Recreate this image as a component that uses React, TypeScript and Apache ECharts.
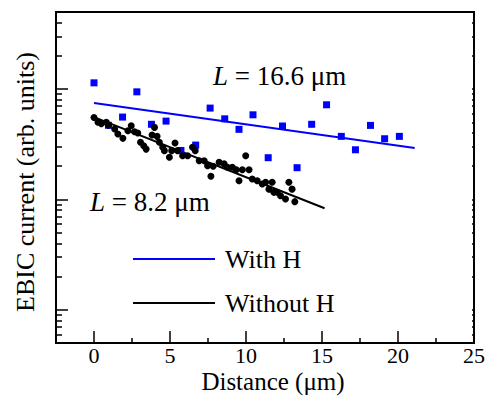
import React, { useEffect, useRef } from "react";
import * as echarts from "echarts";

// Data: "With H" (blue squares) and "Without H" (black dots)
const withHX = [0, 0.95, 1.88, 2.82, 3.78, 4.74, 5.72, 6.69, 7.64, 8.6, 9.54, 10.46, 11.46, 12.4, 13.36, 14.32, 15.3, 16.27, 17.2, 18.19, 19.12, 20.09];
const withHY = [1.14, 0.47, 0.558, 0.945, 0.48, 0.513, 0.278, 0.311, 0.673, 0.538, 0.432, 0.585, 0.239, 0.463, 0.194, 0.48, 0.721, 0.373, 0.282, 0.469, 0.355, 0.373];

const withoutHX = [0, 0.26, 0.48, 0.81, 0.96, 1.36, 1.57, 1.9, 2.23, 2.45, 2.67, 2.88, 3.06, 3.27, 3.43, 3.82, 3.98, 4.15, 4.3, 4.52, 4.63, 4.96, 5.11, 5.33, 5.5, 5.83, 6.16, 6.48, 6.66, 6.92, 7.25, 7.47, 7.69, 7.84, 8.23, 8.56, 8.78, 9.1, 9.36, 9.54, 9.76, 9.98, 10.2, 10.41, 10.74, 11.07, 11.29, 11.51, 11.72, 11.83, 12.05, 12.27, 12.6, 12.82, 13.03, 13.21];
const withoutHY = [0.554, 0.5, 0.487, 0.5, 0.472, 0.435, 0.392, 0.358, 0.419, 0.466, 0.411, 0.4, 0.33, 0.307, 0.286, 0.384, 0.45, 0.373, 0.33, 0.297, 0.277, 0.241, 0.277, 0.325, 0.277, 0.249, 0.249, 0.297, 0.277, 0.224, 0.224, 0.202, 0.162, 0.2, 0.217, 0.21, 0.196, 0.196, 0.186, 0.148, 0.186, 0.249, 0.186, 0.153, 0.148, 0.138, 0.143, 0.124, 0.143, 0.116, 0.116, 0.108, 0.101, 0.143, 0.124, 0.0955];

// Exponential fits (straight on log scale)
const fitWithX = [0, 21.1];
const fitWithY = [0.747, 0.292];
const fitWithoutX = [0, 15.17];
const fitWithoutY = [0.558, 0.0832];

const seriesNames = ["With H", "Without H"];
const fitLabels = ["16.6", "8.2"];

// Axes
const xMin = -2.5;
const xMax = 25;
const xMajorTicks = [0, 5, 10, 15, 20, 25];
const xMinorTicks = [2.5, 7.5, 12.5, 17.5, 22.5];
const yMin = 0.005;
const yMax = 5;
const yMajorTicks = [0.01, 0.1, 1];
const yMinorTicks = [
  0.006, 0.007, 0.008, 0.009,
  0.02, 0.03, 0.04, 0.05, 0.06, 0.07, 0.08, 0.09,
  0.2, 0.3, 0.4, 0.5, 0.6, 0.7, 0.8, 0.9,
  2, 3, 4,
];
const xTitle = "Distance (\u03bcm)";
const yTitle = "EBIC current (arb. units)";

const FONT = "Liberation Serif";
const BLUE = "#0000ff";
const BLACK = "#000000";

const zip = (xs: number[], ys: number[]) => xs.map((x, i) => [x, ys[i]]);

export default function App() {
  const ref = useRef<HTMLDivElement>(null);

  useEffect(() => {
    if (!ref.current) return;
    const chart = echarts.init(ref.current, undefined, { renderer: "svg" });
    const lyMin = Math.log10(yMin);
    const lyMax = Math.log10(yMax);
    const tickAxis = (position: string, ticks: number[], len: number) => ({
      type: "value",
      position,
      min: lyMin,
      max: lyMax,
      axisLine: { show: false, onZero: false },
      axisLabel: { show: false },
      splitLine: { show: false },
      axisTick: {
        show: true,
        inside: true,
        length: len,
        customValues: ticks.map((t) => Math.log10(t)),
        lineStyle: { color: BLACK, width: 1.5 },
      },
    });
    const fitText = (label: string) => ({
      text: "{i|L} = " + label + " \u03bcm",
      rich: { i: { fontStyle: "italic", fontFamily: FONT, fontSize: 27, fill: BLACK } },
      fontFamily: FONT,
      fontSize: 27,
      fill: BLACK,
      verticalAlign: "middle",
    });

    const option: any = {
      animation: false,
      textStyle: { fontFamily: FONT, color: BLACK },
      grid: {
        left: 56,
        right: 13,
        top: 12,
        bottom: 60,
        show: true,
        borderColor: BLACK,
        borderWidth: 2,
        backgroundColor: "transparent",
        containLabel: false,
      },
      legend: {
        data: seriesNames,
        orient: "vertical",
        left: 128,
        top: 241,
        padding: 5,
        itemWidth: 82,
        itemHeight: 2,
        itemGap: 18,
        icon: "rect",
        textStyle: {
          fontFamily: FONT,
          fontSize: 26,
          lineHeight: 26,
          color: BLACK,
          padding: [0, 0, 0, 5],
        },
      },
      xAxis: [
        {
          type: "value",
          position: "bottom",
          min: xMin,
          max: xMax,
          axisLine: { show: false, onZero: false },
          splitLine: { show: false },
          axisTick: {
            show: true,
            inside: true,
            length: 12,
            customValues: xMajorTicks,
            lineStyle: { color: BLACK, width: 1.5 },
          },
          axisLabel: {
            show: true,
            customValues: xMajorTicks,
            fontFamily: FONT,
            fontSize: 22,
            lineHeight: 22,
            color: BLACK,
            margin: 1,
          },
        },
        {
          type: "value",
          position: "bottom",
          min: xMin,
          max: xMax,
          axisLine: { show: false, onZero: false },
          splitLine: { show: false },
          axisLabel: { show: false },
          axisTick: {
            show: true,
            inside: true,
            length: 5,
            customValues: xMinorTicks,
            lineStyle: { color: BLACK, width: 1.5 },
          },
        },
      ],
      yAxis: [
        {
          type: "log",
          logBase: 10,
          position: "left",
          min: yMin,
          max: yMax,
          axisLine: { show: false, onZero: false },
          axisTick: { show: false },
          axisLabel: { show: false },
          splitLine: { show: false },
        },
        tickAxis("left", yMajorTicks, 12),
        tickAxis("left", yMinorTicks, 6),
        tickAxis("right", yMajorTicks.concat(yMinorTicks), 2),
      ],
      graphic: [
        { type: "text", x: 213, y: 76, style: fitText(fitLabels[0]) },
        { type: "text", x: 90, y: 202, style: fitText(fitLabels[1]) },
        {
          type: "text",
          x: 273,
          y: 381.5,
          style: {
            text: xTitle,
            fontFamily: FONT,
            fontSize: 25,
            fill: BLACK,
            align: "center",
            verticalAlign: "middle",
          },
        },
        {
          type: "text",
          x: 25,
          y: 182,
          rotation: Math.PI / 2,
          style: {
            text: yTitle,
            fontFamily: FONT,
            fontSize: 26,
            fill: BLACK,
            align: "center",
            verticalAlign: "middle",
          },
        },
      ],
      series: [
        {
          name: seriesNames[0],
          type: "line",
          xAxisIndex: 0,
          yAxisIndex: 0,
          data: zip(fitWithX, fitWithY),
          showSymbol: false,
          symbol: "none",
          color: BLUE,
          lineStyle: { color: BLUE, width: 2 },
          z: 3,
        },
        {
          name: seriesNames[1],
          type: "line",
          xAxisIndex: 0,
          yAxisIndex: 0,
          data: zip(fitWithoutX, fitWithoutY),
          showSymbol: false,
          symbol: "none",
          color: BLACK,
          lineStyle: { color: BLACK, width: 2 },
          z: 3,
        },
        {
          name: seriesNames[0] + " data",
          type: "scatter",
          xAxisIndex: 0,
          yAxisIndex: 0,
          data: zip(withHX, withHY),
          symbol: "rect",
          symbolSize: 7,
          itemStyle: { color: BLUE, opacity: 1 },
          z: 4,
        },
        {
          name: seriesNames[1] + " data",
          type: "scatter",
          xAxisIndex: 0,
          yAxisIndex: 0,
          data: zip(withoutHX, withoutHY),
          symbol: "circle",
          symbolSize: 7,
          itemStyle: { color: BLACK, opacity: 1 },
          z: 5,
        },
      ],
    };
    chart.setOption(option);
    return () => chart.dispose();
  }, []);

  return (
    <div
      ref={ref}
      style={{ position: "fixed", left: 0, top: 0, width: 488, height: 403, background: "#fff" }}
    />
  );
}
